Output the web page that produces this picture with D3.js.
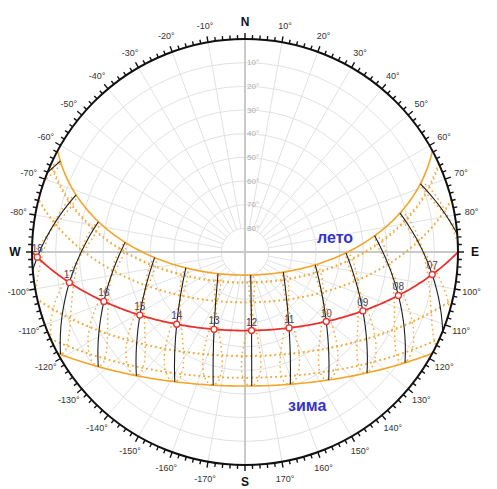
<!DOCTYPE html>
<html>
<head>
<meta charset="utf-8">
<script src="https://cdn.jsdelivr.net/npm/d3@7"></script>
<style>
  body { margin: 0; background: #fff; }
  svg { display: block; font-family: "Liberation Sans", Arial, sans-serif; }
  .ring, .radial { fill: none; stroke: #e2e2e2; stroke-width: 1; }
  .axis { stroke: #c9c9c9; stroke-width: 2; }
  .month { fill: none; stroke: #f2aa3c; stroke-width: 1.5; stroke-dasharray: 1.6,3.2; }
  .ana { fill: none; stroke: #f2aa3c; stroke-width: 1.5; stroke-dasharray: 1.6,3.2; }
  .solstice { fill: none; stroke: #f3a52a; stroke-width: 1.6; }
  .hourline { fill: none; stroke: #1e1e1e; stroke-width: 1.1; }
  .today { fill: none; stroke: #e8322f; stroke-width: 1.8; }
</style>
</head>
<body>
<svg id="chart" width="497" height="489"></svg>
<script>
// site & time
const latitude = 33.2;
const clockOffsetMin = -10.5;

// sun declinations (deg)
const summerDec = 23.44;
const winterDec = -23.44;
const monthDecs = [-20.0, -10.6, 11.8, 20.1, 20.5, 12.0, -10.9, -19.9];
const todayDec = 0.0;

// hour lines (local clock)
const lineHours = [5, 6, 7, 8, 9, 10, 11, 12, 13, 14, 15, 16, 17, 18, 19, 20];
const labelHours = ["07", "08", "09", "10", "11", "12", "13", "14", "15", "16", "17", "18"];

// analemma over the year (1st / 15th of month): declination, equation of time (min)
const yearDec = [-23.0, -21.2, -17.2, -12.9, -7.8, -2.4, 4.4, 9.7, 15.0, 18.8, 22.0, 23.3,
                 23.1, 21.6, 18.0, 14.0, 8.3, 3.0, -3.1, -8.5, -14.4, -18.6, -21.8, -23.3, -23.0];
const yearEot = [-3.3, -9.2, -13.6, -14.2, -12.4, -9.0, -4.0, -0.1, 2.9, 3.7, 2.3, -0.3,
                 -3.7, -5.9, -6.3, -4.5, -0.1, 4.7, 10.1, 14.2, 16.4, 15.3, 11.0, 4.7, -3.3];

// grid & labels
const altRings = [10, 20, 30, 40, 50, 60, 70, 80];
const azLabels = d3.range(-170, 181, 10).filter(a => a % 90 !== 0);
const compass = [["N", 0], ["E", 90], ["S", 180], ["W", -90]];

const cx = 245, cy = 252, R = 213;
const svg = d3.select("#chart");

let projection = d3.geoAzimuthalEquidistant()
    .rotate([0, -latitude])
    .scale(R / (Math.PI / 2))
    .translate([cx, cy])
    .clipAngle(90)
    .precision(0.1);
let path = d3.geoPath().projection(projection);
let rScale = d3.scaleLinear().domain([90, 0]).range([0, R]);

function polar(az, r) {
    let a = az * Math.PI / 180;
    return [cx + r * Math.sin(a), cy - r * Math.cos(a)];
}
function hourAngle(h, eot) {
    return (h + (clockOffsetMin + eot) / 60 - 12) * 15;
}
function dayPath(dec) {
    return {type: "LineString", coordinates: d3.range(-180, 180.5, 1).map(H => [-H, dec])};
}

// grid
let grid = svg.append("g");
grid.selectAll(".ring").data(altRings).enter().append("circle")
    .attr("class", "ring").attr("cx", cx).attr("cy", cy).attr("r", d => rScale(d));
grid.selectAll(".radial").data(d3.range(0, 360, 10).filter(a => a % 90 !== 0)).enter().append("line")
    .attr("class", "radial")
    .attr("x1", d => polar(d, rScale(80))[0]).attr("y1", d => polar(d, rScale(80))[1])
    .attr("x2", d => polar(d, R)[0]).attr("y2", d => polar(d, R)[1]);
grid.append("line").attr("class", "axis").attr("x1", cx).attr("x2", cx).attr("y1", cy - R).attr("y2", cy + R);
grid.append("line").attr("class", "axis").attr("x1", cx - R).attr("x2", cx + R).attr("y1", cy).attr("y2", cy);
grid.selectAll(".altlab").data(altRings).enter().append("text")
    .attr("x", cx + 2).attr("y", d => cy - rScale(d)).attr("dy", "0.35em")
    .attr("font-size", 8).attr("fill", "#adadad").text(d => d + "°");

// dotted monthly paths
svg.append("g").selectAll("path").data(monthDecs).enter().append("path")
    .attr("class", "month").attr("d", d => path(dayPath(d)));

// dotted analemmas
svg.append("g").selectAll("path").data(lineHours).enter().append("path")
    .attr("class", "ana")
    .attr("d", h => path({type: "LineString",
        coordinates: yearDec.map((d, i) => [-hourAngle(h, yearEot[i]), d])}));

// solstices
svg.append("g").selectAll("path").data([summerDec, winterDec]).enter().append("path")
    .attr("class", "solstice").attr("d", d => path(dayPath(d)));

// solid hour lines (mean time)
svg.append("g").selectAll("path").data(lineHours).enter().append("path")
    .attr("class", "hourline")
    .attr("d", h => path({type: "LineString",
        coordinates: [[-hourAngle(h, 0), winterDec], [-hourAngle(h, 0), summerDec]]}));

// today
svg.append("path").attr("class", "today").attr("d", path(dayPath(todayDec)));
let pts = labelHours.map(h => {
    let p = [-hourAngle(+h, 0), todayDec];
    return {h: h, p: p, xy: projection(p)};
}).filter(d => d3.geoDistance(d.p, [0, latitude]) < Math.PI / 2);
let pg = svg.append("g");
pg.selectAll("circle").data(pts).enter().append("circle")
    .attr("cx", d => d.xy[0]).attr("cy", d => d.xy[1]).attr("r", 3)
    .attr("fill", "#fff").attr("stroke", "#e8322f").attr("stroke-width", 1.3);
pg.selectAll("text").data(pts).enter().append("text")
    .attr("x", d => d.xy[0]).attr("y", d => d.xy[1] - 5)
    .attr("text-anchor", "middle").attr("font-size", 10).attr("fill", "#45456a").text(d => d.h);

// outer ring, ticks, labels
let rim = svg.append("g");
rim.append("circle").attr("cx", cx).attr("cy", cy).attr("r", R)
    .attr("fill", "none").attr("stroke", "#111").attr("stroke-width", 2);
rim.selectAll(".tick").data(d3.range(0, 360, 2)).enter().append("line")
    .attr("x1", d => polar(d, R)[0]).attr("y1", d => polar(d, R)[1])
    .attr("x2", d => polar(d, R + (d % 10 === 0 ? 6 : 4))[0])
    .attr("y2", d => polar(d, R + (d % 10 === 0 ? 6 : 4))[1])
    .attr("stroke", "#111").attr("stroke-width", 1.4);
rim.selectAll(".azlab").data(azLabels).enter().append("text")
    .attr("x", d => polar(d, 230)[0]).attr("y", d => polar(d, 230)[1])
    .attr("dy", "0.35em").attr("text-anchor", "middle")
    .attr("font-size", 9).attr("fill", "#333").text(d => d + "°");
rim.selectAll(".cmp").data(compass).enter().append("text")
    .attr("x", d => polar(d[1], 230)[0]).attr("y", d => polar(d[1], 230)[1])
    .attr("dy", "0.36em").attr("text-anchor", "middle")
    .attr("font-size", 12).attr("font-weight", "bold").attr("fill", "#111").text(d => d[0]);

// season notes
svg.append("text").attr("x", 317).attr("y", 243).attr("font-size", 16).attr("font-weight", "bold")
    .attr("fill", "#3434c6").text("лето");
svg.append("text").attr("x", 288).attr("y", 411).attr("font-size", 16).attr("font-weight", "bold")
    .attr("fill", "#3434c6").text("зима");
</script>
</body>
</html>
